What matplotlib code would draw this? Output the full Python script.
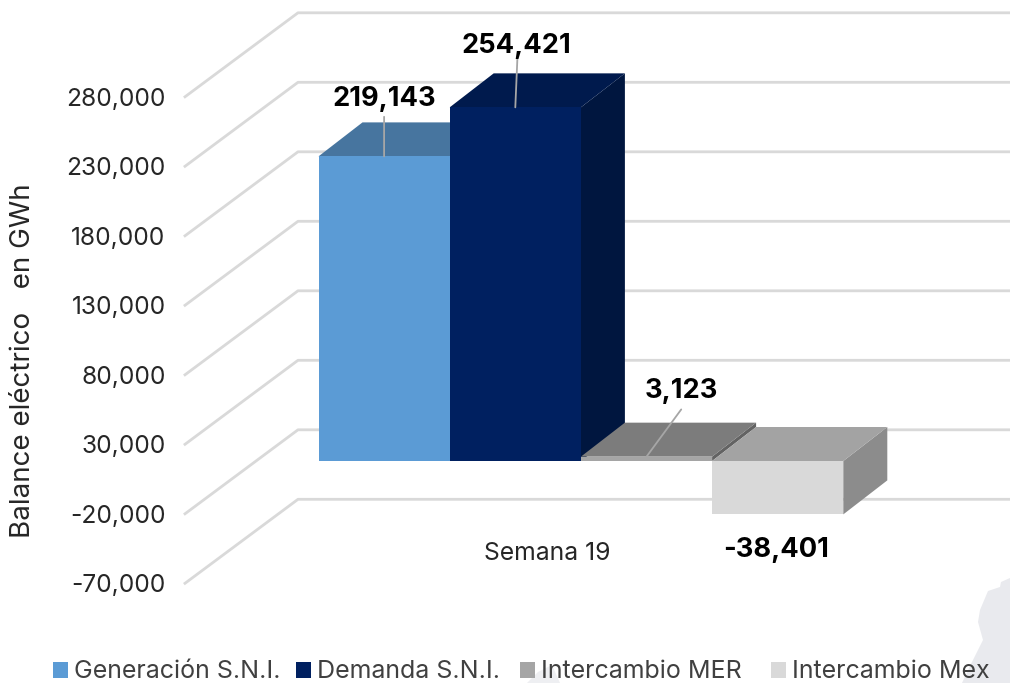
import matplotlib
matplotlib.use('Agg')
import matplotlib.pyplot as plt
from matplotlib.patches import Polygon, Patch

plt.rcParams['font.family'] = ['Inter', 'DejaVu Sans']

# data
series = ['Generación S.N.I.', 'Demanda S.N.I.', 'Intercambio MER', 'Intercambio Mex']
values = [219143, 254421, 3123, -38401]
labels = ['219,143', '254,421', '3,123', '-38,401']
front_colors = ['#5B9BD5', '#002060', '#A5A5A5', '#D9D9D9']
top_colors = ['#47759F', '#001A4D', '#7C7C7C', '#A3A3A3']
side_colors = ['#3F6A91', '#00163F', '#636363', '#8C8C8C']
ticks = [-70000, -20000, 30000, 80000, 130000, 180000, 230000, 280000]
tick_labels = ['-70,000', '-20,000', '30,000', '80,000', '130,000', '180,000', '230,000', '280,000']
legend_x = [46, 289, 513, 764]

# layout in pixels, the x axis of the axes is pixels from the left of the figure
W, H = 1010, 683
PX = 0.00139      # pixels per GWh
Y0 = 486          # pixel row of value 0 on the front edge of the walls
X0 = 185          # front edge of the walls
WALL_X, WALL_Y = 113, 84    # depth of the walls
BAR_X, BAR_Y = 44, 34       # depth of the bars
BAR_LEFT, BAR_W = 318.5, 131.2
BAR_SHIFT = 25    # bar fronts sit this far up from the wall front

fig = plt.figure(figsize=(W/100, H/100), dpi=100)
ax = fig.add_axes([X0/W, 0, (W-X0)/W, 1])
ax.set_xlim(X0, W)
ax.set_ylim((Y0-H)/PX, Y0/PX)
for s in ax.spines.values():
    s.set_visible(False)
ax.set_xticks([])
ax.set_yticks(ticks)
ax.set_yticklabels(tick_labels, fontsize=17.7, color='#262626')
ax.tick_params(axis='y', length=0, pad=14)

# faint watermark, lower right corner and behind the legend (given in pixel rows)
wm1 = [(1010, 578), (1001, 582), (1000, 587), (988, 591), (980, 610), (978, 622),
       (983, 640), (972, 662), (962, 683), (1010, 683)]
wm2 = [(527, 683), (538, 672), (552, 665), (560, 683)]
ax.add_patch(Polygon([(x, (Y0-r)/PX) for x, r in wm1], closed=True, fc='#E9EAEE', ec='none', zorder=0))
ax.add_patch(Polygon([(x, (Y0-r)/PX) for x, r in wm2], closed=True, fc='#EEEFF2', ec='none', zorder=0))

# walls
dy = WALL_Y/PX
for t in ticks:
    ax.plot([X0, X0+WALL_X, W], [t, t+dy, t+dy], color='#D9D9D9', lw=2, zorder=1, clip_on=False)

base = BAR_SHIFT/PX
depth = BAR_Y/PX
for i, v in enumerate(values):
    x0 = BAR_LEFT + i*BAR_W
    x1 = x0 + BAR_W
    top = base + max(v, 0)
    bot = base + min(v, 0)
    ax.add_patch(Polygon([(x1, bot), (x1+BAR_X, bot+depth), (x1+BAR_X, top+depth), (x1, top)],
                         closed=True, fc=side_colors[i], ec='none', zorder=2+i))
    ax.add_patch(Polygon([(x0, top), (x0+BAR_X, top+depth), (x1+BAR_X, top+depth), (x1, top)],
                         closed=True, fc=top_colors[i], ec='none', zorder=2+i))
    ax.add_patch(Polygon([(x0, bot), (x1, bot), (x1, top), (x0, top)],
                         closed=True, fc=front_colors[i], ec='none', zorder=2+i))

# value labels with leader lines, offsets in points
label_off = [(0, 41.5), (1, 44.5), (25, 47), (-1, -25.5)]
line_off = [(0, 28.5), (1.5, 35), (25, 34), None]
for i, v in enumerate(values):
    xc = BAR_LEFT + (i+0.5)*BAR_W
    yv = base + max(v, 0) if v >= 0 else base + v
    if line_off[i] is not None:
        ax.annotate('', xy=(xc, yv), xytext=line_off[i], textcoords='offset points',
                    arrowprops=dict(arrowstyle='-', color='#A6A6A6', lw=1.3, shrinkA=0, shrinkB=0),
                    zorder=10)
    ax.annotate(labels[i], xy=(xc, yv), xytext=label_off[i], textcoords='offset points',
                ha='center', va='center', fontsize=19.6, fontweight='bold', color='black', zorder=11)

ax.text(547, (Y0-553)/PX, 'Semana 19', ha='center', va='center', fontsize=17.8, color='#262626')
fig.text(23/W, 1-361/H, 'Balance eléctrico   en GWh', rotation=90, ha='center', va='center',
         fontsize=20, color='#262626')

# one legend per entry so the entries can sit where the reference has them
for i in range(4):
    leg = ax.legend([Patch(fc=front_colors[i], ec='none')], [series[i]], loc='center left',
                    bbox_to_anchor=((legend_x[i]+7)/W, 1-672/H), bbox_transform=fig.transFigure,
                    frameon=False, fontsize=18, labelcolor='#404040',
                    handlelength=0.6, handleheight=0.6, handletextpad=0.24,
                    borderaxespad=0, borderpad=0)
    ax.add_artist(leg)
ax.legend_ = None

fig.savefig('out.png', dpi=100)
